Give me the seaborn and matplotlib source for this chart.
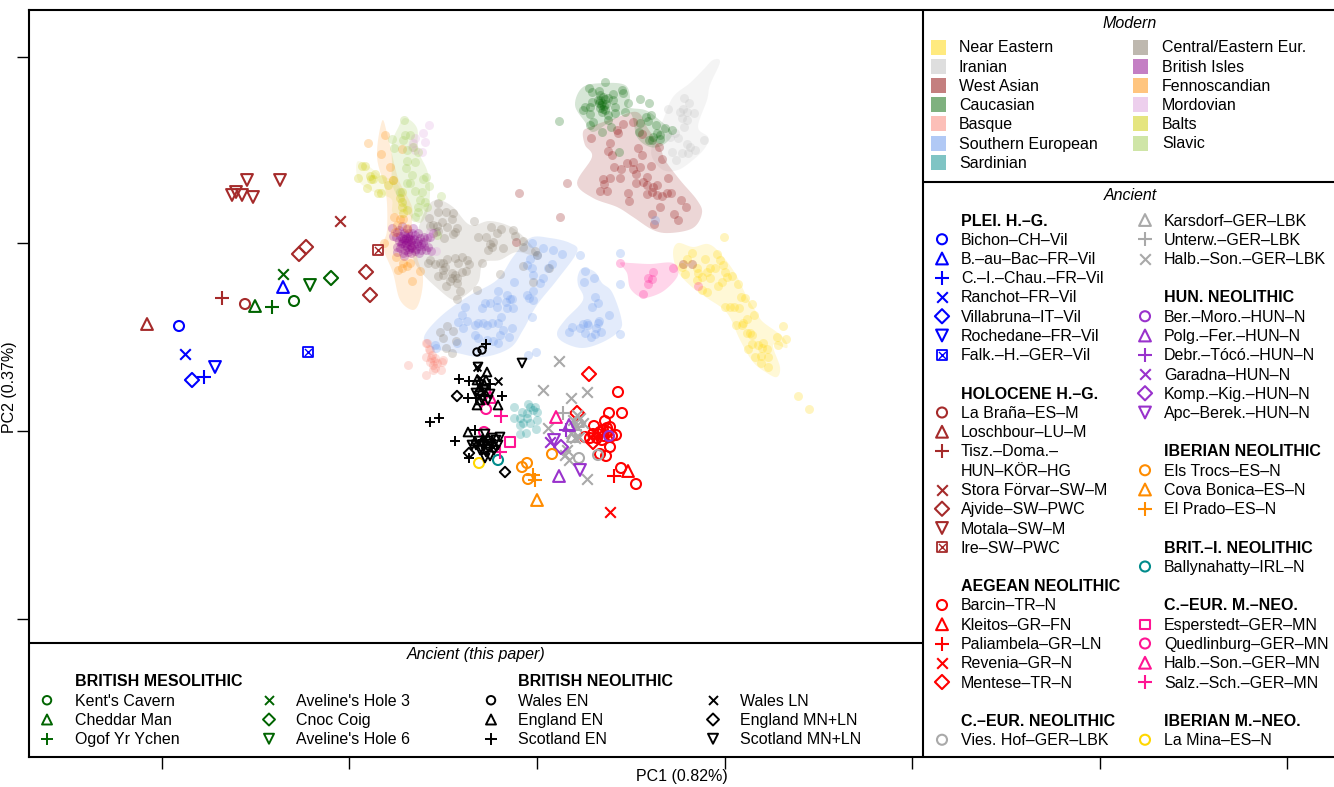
import numpy as np
import pandas as pd
import matplotlib
matplotlib.use("Agg")
import matplotlib.pyplot as plt
import seaborn as sns

# values are read off the picture, axis units are the plot's own (no tick labels in the original)
near_eastern = [(692,253),(687,259),(682,267),(685,274),(697,268),(698,273),(705,259),(717,254),(720,260),(723,265),(715,268),(710,268),(707,272),(702,277),(710,278),(697,280),(725,272),(732,276),(727,277),(718,286),(722,282),(738,284),(702,290),(707,292),(741,297),(745,298),(752,304),(725,307),(730,307),(734,307),(739,308),(754,315),(747,319),(743,323),(742,325),(736,325),(750,333),(747,333),(752,335),(783,326),(777,337),(786,339),(778,345),(763,343),(758,345),(752,344),(748,349),(762,348),(767,349),(768,357),(755,357),(761,356),(761,363),(768,367),(798,396),(809,409),(724,237)]
iranian = [(684,98),(689,103),(668,109),(680,112),(683,109),(687,112),(694,113),(682,118),(687,120),(684,127),(675,133),(678,138),(704,140),(687,144),(690,147),(695,150),(688,153),(682,153),(672,152),(676,160),(670,137)]
west_asian = [(591,138),(618,133),(617,130),(623,124),(633,122),(642,134),(610,143),(608,151),(612,155),(638,148),(642,155),(659,147),(662,159),(627,163),(633,162),(640,167),(651,166),(614,167),(621,169),(633,169),(636,174),(603,179),(610,178),(620,178),(604,184),(600,191),(607,191),(636,183),(647,177),(643,182),(647,185),(657,185),(653,187),(668,178),(628,193),(647,194),(652,192),(657,195),(662,196),(667,193),(671,193),(681,200),(686,207),(629,201),(660,207),(652,214),(674,214),(678,220),(654,224),(567,183),(560,217),(519,193),(516,242),(683,264),(692,264)]
caucasian = [(605,82),(589,88),(592,92),(599,91),(600,95),(622,90),(623,93),(613,94),(605,99),(608,98),(598,100),(592,102),(602,103),(613,100),(628,103),(640,99),(649,103),(585,107),(583,110),(590,107),(600,108),(605,110),(615,107),(602,112),(590,114),(615,113),(625,112),(608,115),(593,122),(590,125),(608,120),(611,127),(602,132),(559,121),(619,152),(640,123),(646,117),(651,115),(648,121),(656,125),(665,128),(672,130),(639,132),(657,133),(660,135),(653,137),(649,140),(660,139),(652,140),(601,105),(604,106),(599,103),(603,97),(600,100),(606,104),(603,109)]
basque = [(427,343),(429,349),(426,357),(432,355),(435,358),(430,362),(437,363),(433,365),(443,360),(426,375),(441,370),(433,370),(408,365),(426,343),(430,350),(435,368),(442,362),(431,358),(434,361)]
southern_eur = [(532,243),(543,248),(553,250),(562,254),(580,255),(530,259),(537,255),(527,265),(532,268),(552,264),(548,268),(533,275),(543,278),(540,283),(514,282),(498,291),(533,291),(527,295),(529,298),(533,300),(507,295),(510,299),(512,299),(506,302),(497,300),(490,303),(485,303),(482,308),(465,307),(497,307),(507,308),(513,308),(462,315),(458,322),(467,321),(463,328),(475,325),(478,323),(483,323),(487,325),(492,323),(498,323),(501,317),(532,317),(503,330),(512,328),(475,335),(478,338),(500,335),(509,337),(487,340),(493,341),(498,343),(457,343),(435,345),(436,348),(528,355),(536,352),
                (585,271),(594,278),(584,282),(595,297),(598,303),(592,307),(609,315),(599,321),(598,323),(587,323),(588,325),(583,324),(596,328),(601,332),(580,328),(572,327),(569,332),(585,333),(591,337),(595,334),(620,334),(620,253),(620,284),(655,220)]
sardinian = [(528,404),(514,407),(535,407),(537,412),(522,412),(527,413),(514,418),(520,418),(527,418),(537,420),(523,423),(520,425),(530,423),(536,429),(520,434),(526,433),(533,410),(530,407)]
central_eur = [(438,203),(438,212),(446,212),(453,213),(452,219),(429,218),(442,222),(474,221),(491,227),(430,226),(433,225),(437,226),(447,227),(457,228),(455,232),(501,229),(513,230),(497,233),(436,232),(438,231),(453,234),(478,237),(486,237),(515,236),(523,241),(444,238),(493,242),(490,244),(492,247),(488,250),(523,247),(503,248),(535,251),(537,255),(430,260),(428,263),(447,259),(455,258),(462,257),(467,260),(443,263),(435,264),(440,263),(458,263),(469,264),(482,263),(523,266),(445,267),(443,270),(549,268),(462,272),(466,271),(452,273),(455,275),(500,274),(438,276),(443,275),(452,278),(457,278),(450,281),(533,282),(457,283),(446,286),(477,290),(460,291),(457,299),(447,326),(453,331),(440,332),(443,338),(456,341),(446,348),(452,353)]
british_isles = [(392,228),(397,232),(402,226),(407,229),(413,228),(396,237),(400,236),(405,235),(410,236),(415,235),(420,238),(399,241),(404,239),(408,241),(412,240),(418,241),(423,242),(427,238),(401,244),(405,245),(410,245),(414,245),(419,246),(424,246),(428,247),(400,248),(405,250),(409,249),(416,249),(421,250),(426,250),(431,251),(397,252),(403,253),(411,253),(419,253),(404,256),(430,237),(433,233),(399,230),(406,243),(411,242),(403,241),(408,238),(412,248),(404,233),(408,233),(412,233),(402,238),(406,238),(410,239),(414,239),(417,243),(421,244),(402,243),(407,247),(411,247),(415,251),(408,252),(393,236),(397,247),(418,233),(424,237)]
fennoscandian = [(385,135),(368,143),(381,154),(390,167),(393,180),(402,149),(394,217),(400,219),(403,219),(397,225),(395,232),(407,228),(384,243),(396,257),(398,270),(403,263),(410,263),(407,266),(402,268),(420,271),(412,281)]
mordovian = [(429,125),(423,133),(415,138),(425,142),(413,143),(412,147),(422,152),(415,150),(430,232),(436,251),(432,235)]
balts = [(362,166),(365,166),(370,176),(375,174),(358,178),(371,179),(373,179),(382,179),(367,188),(378,193),(381,193),(388,185),(402,192),(400,198),(402,207),(407,210),(403,213),(393,180),(402,202)]
slavic = [(404,120),(392,139),(405,135),(410,135),(403,140),(394,148),(413,147),(407,150),(418,152),(407,161),(415,162),(406,168),(412,175),(426,177),(423,179),(407,183),(410,183),(429,186),(415,191),(422,192),(441,196),(400,192),(420,200),(425,202),(418,207),(418,212),(415,217),(427,207),(437,235)]
pink_group = [(620,263),(673,268),(653,272),(648,278),(652,279),(648,284),(643,294),(698,286)]

hull_near_eastern = [(673,253),(678,243),(693,247),(708,244),(720,253),(735,273),(747,297),(757,313),(763,322),(783,337),(787,348),(773,345),(780,367),(777,377),(767,373),(753,362),(740,340),(727,313),(707,298),(693,288),(678,272)]
hull_iranian = [(720,62),(713,60),(703,70),(690,83),(673,97),(663,120),(653,143),(652,157),(663,170),(678,170),(693,160),(705,148),(708,137),(698,127),(707,100),(710,85)]
hull_west_asian = [(583,132),(590,127),(615,118),(637,112),(647,127),(660,147),(665,160),(680,180),(697,200),(702,213),(693,228),(670,233),(653,230),(633,217),(617,207),(593,198),(577,183),(592,157),(585,145)]
hull_caucasian = [(575,105),(583,87),(605,83),(625,85),(630,97),(628,107),(645,110),(657,118),(672,133),(663,145),(650,147),(637,137),(630,113),(610,122),(593,132),(585,122)]
hull_south_a = [(424,337),(440,317),(467,297),(497,280),(513,257),(530,238),(550,238),(570,243),(577,252),(557,280),(537,305),(523,330),(510,348),(483,357),(457,353),(433,348)]
hull_south_b = [(578,275),(583,268),(595,272),(602,283),(612,292),(621,317),(620,330),(603,342),(582,348),(563,342),(557,333),(565,320),(583,300),(578,285)]
hull_pink = [(620,263),(630,263),(650,264),(673,263),(678,275),(665,290),(650,297),(640,297),(630,288),(627,273)]
hull_fenno = [(382,121),(387,133),(395,167),(400,183),(412,207),(412,227),(417,257),(423,277),(420,300),(413,310),(400,300),(393,273),(383,247),(387,230),(386,193),(377,157)]
hull_slavic = [(405,118),(417,128),(418,150),(427,170),(430,188),(428,210),(420,223),(408,213),(393,187),(392,163),(392,143),(398,128)]
hull_balts = [(357,162),(367,165),(380,175),(392,180),(400,188),(408,210),(393,213),(392,200),(383,195),(370,190),(358,180)]
hull_central = [(427,207),(438,200),(453,207),(470,225),(490,221),(513,228),(533,247),(538,257),(517,252),(500,260),(483,263),(478,283),(463,297),(453,300),(437,288),(422,273),(413,257),(417,233)]

# ancient samples, one list per population
bichon = [(179,326)]
bau_bac = [(283,287)]
chau = [(204,377)]
ranchot = [(185,354)]
villabruna = [(192,380)]
rochedane = [(215,367)]
falk = [(308,352)]
la_brana = [(245,304)]
loschbour = [(147,324)]
tisz = [(222,298)]
stora = [(340,221)]
ajvide = [(299,254),(306,247),(366,272),(370,295)]
motala = [(247,180),(280,180),(236,192),(232,195),(242,195),(253,197)]
ire = [(378,250)]
kents = [(294,301)]
cheddar = [(255,306)]
ogof = [(272,307)]
aveline3 = [(283,274)]
cnoc = [(331,278)]
aveline6 = [(310,285)]
barcin = [(618,392),(622,413),(609,413),(605,421),(594,426),(610,427),(585,437),(590,438),(597,438),(600,432),(603,430),(607,428),(598,434),(604,436),(612,436),(616,435),(610,447),(606,456),(600,454),(621,468),(636,484),(602,440),(608,432),(593,434)]
kleitos = [(628,471)]
paliambela = [(614,476)]
revenia = [(610,512)]
mentese = [(589,374),(593,442),(577,413)]
vies_hof = [(579,458),(598,455)]
karsdorf = [(578,421),(573,436)]
unterw = [(563,413),(575,430)]
halb_lbk = [(559,361),(543,390),(587,392),(571,398),(548,428),(587,479),(577,415),(575,438),(565,455),(569,460),(567,450),(583,423),(573,420),(580,418),(579,437),(571,433),(576,426)]
ber_moro = [(609,436)]
polg = [(569,425),(559,476)]
debr = [(566,430)]
garadna = [(550,442)]
komp = [(561,447)]
apc = [(554,440),(580,470)]
els_trocs = [(522,467),(527,463),(528,479),(552,454)]
cova = [(537,500)]
el_prado = [(533,475),(535,480)]
ballynahatty = [(498,460)]
esperstedt = [(510,442)]
quedlinburg = [(486,409),(484,432)]
halb_mn = [(556,417),(490,397)]
salz = [(501,416),(500,452)]
la_mina = [(479,463)]
wales_en = [(477,352),(482,350)]
england_en = [(487,372),(477,405),(498,405),(477,380),(486,380),(480,387),(484,384),(468,432),(480,400),(475,441)]
scotland_en = [(486,344),(459,379),(469,381),(468,398),(502,396),(430,422),(439,418),(455,441),(475,430),(469,458),(476,398),(485,396),(490,384),(483,440)]
wales_ln = [(498,381),(477,367),(483,392),(480,378),(493,447),(485,438)]
england_mn = [(457,396),(505,472),(469,453),(480,392),(483,442)]
scotland_mn = [(522,363),(478,367),(485,434),(476,393),(482,399),(488,400),(490,394),(480,385),(484,390),(472,445),(476,445),(480,450),(484,446),(488,441),(492,438),(496,440),(486,452),(490,456),(494,450),(498,445),(482,450),(488,447),(478,441),(491,444),(485,458),(500,437)]

x_ticks = [162, 349, 537, 725, 912, 1100, 1287]
y_ticks = [57, 243, 431, 619]

modern_col1 = [("Near Eastern", "#FFD700"), ("Iranian", "#BEBEBE"), ("West Asian", "#8B0000"), ("Caucasian", "#006400"),
               ("Basque", "#FA8072"), ("Southern European", "#6495ED"), ("Sardinian", "#008B8B")]
modern_col2 = [("Central/Eastern Eur.", "#7F7360"), ("British Isles", "#8B008B"), ("Fennoscandian", "#FF8C00"),
               ("Mordovian", "#DDA0DD"), ("Balts", "#CCCC00"), ("Slavic", "#A0CC50")]

P, H = "blue", "#A52A2A"
R, G, V, O, M = "red", "#A9A9A9", "#9932CC", "#FF8C00", "#FF1493"
ancient_col1 = [("PLEI. H.\u2013G.", None, None), ("Bichon\u2013CH\u2013Vil", "o", P), ("B.\u2013au\u2013Bac\u2013FR\u2013Vil", "^", P),
                ("C.\u2013I.\u2013Chau.\u2013FR\u2013Vil", "+", P), ("Ranchot\u2013FR\u2013Vil", "x", P), ("Villabruna\u2013IT\u2013Vil", "D", P),
                ("Rochedane\u2013FR\u2013Vil", "v", P), ("Falk.\u2013H.\u2013GER\u2013Vil", "box", P), None,
                ("HOLOCENE H.\u2013G.", None, None), ("La Bra\u00f1a\u2013ES\u2013M", "o", H), ("Loschbour\u2013LU\u2013M", "^", H),
                ("Tisz.\u2013Doma.\u2013", "+", H), ("HUN\u2013K\u00d6R\u2013HG", "", H), ("Stora F\u00f6rvar\u2013SW\u2013M", "x", H),
                ("Ajvide\u2013SW\u2013PWC", "D", H), ("Motala\u2013SW\u2013M", "v", H), ("Ire\u2013SW\u2013PWC", "box", H), None,
                ("AEGEAN NEOLITHIC", None, None), ("Barcin\u2013TR\u2013N", "o", R), ("Kleitos\u2013GR\u2013FN", "^", R),
                ("Paliambela\u2013GR\u2013LN", "+", R), ("Revenia\u2013GR\u2013N", "x", R), ("Mentese\u2013TR\u2013N", "D", R), None,
                ("C.\u2013EUR. NEOLITHIC", None, None), ("Vies. Hof\u2013GER\u2013LBK", "o", G)]
ancient_col2 = [("Karsdorf\u2013GER\u2013LBK", "^", G), ("Unterw.\u2013GER\u2013LBK", "+", G), ("Halb.\u2013Son.\u2013GER\u2013LBK", "x", G), None,
                ("HUN. NEOLITHIC", None, None), ("Ber.\u2013Moro.\u2013HUN\u2013N", "o", V), ("Polg.\u2013Fer.\u2013HUN\u2013N", "^", V),
                ("Debr.\u2013T\u00f3c\u00f3.\u2013HUN\u2013N", "+", V), ("Garadna\u2013HUN\u2013N", "x", V), ("Komp.\u2013Kig.\u2013HUN\u2013N", "D", V),
                ("Apc\u2013Berek.\u2013HUN\u2013N", "v", V), None,
                ("IBERIAN NEOLITHIC", None, None), ("Els Trocs\u2013ES\u2013N", "o", O), ("Cova Bonica\u2013ES\u2013N", "^", O), ("El Prado\u2013ES\u2013N", "+", O), None,
                ("BRIT.\u2013I. NEOLITHIC", None, None), ("Ballynahatty\u2013IRL\u2013N", "o", "#008B8B"), None,
                ("C.\u2013EUR. M.\u2013NEO.", None, None), ("Esperstedt\u2013GER\u2013MN", "s", M), ("Quedlinburg\u2013GER\u2013MN", "o", M),
                ("Halb.\u2013Son.\u2013GER\u2013MN", "^", M), ("Salz.\u2013Sch.\u2013GER\u2013MN", "+", M), None,
                ("IBERIAN M.\u2013NEO.", None, None), ("La Mina\u2013ES\u2013N", "o", "#FFD700")]
paper_col1 = [("BRITISH MESOLITHIC", None, None), ("Kent's Cavern", "o", "#006400"), ("Cheddar Man", "^", "#006400"), ("Ogof Yr Ychen", "+", "#006400")]
paper_col2 = [None, ("Aveline's Hole 3", "x", "#006400"), ("Cnoc Coig", "D", "#006400"), ("Aveline's Hole 6", "v", "#006400")]
paper_col3 = [("BRITISH NEOLITHIC", None, None), ("Wales EN", "o", "black"), ("England EN", "^", "black"), ("Scotland EN", "+", "black")]
paper_col4 = [None, ("Wales LN", "x", "black"), ("England MN+LN", "D", "black"), ("Scotland MN+LN", "v", "black")]

sns.set_style("ticks")
plt.rcParams["font.family"] = ["Liberation Sans", "DejaVu Sans"]
plt.rcParams["text.color"] = "black"
FS = 11.5
SIZES = {"o": 52, "^": 72, "v": 72, "D": 52, "s": 42, "+": 105, "x": 58}


def smooth(outline, n=8):
    # catmull-rom through the outline so the shaded regions come out round
    pts = np.array(outline, dtype=float)
    t = np.linspace(0, 1, n, endpoint=False)[:, None]
    out = []
    for i in range(len(pts)):
        p0, p1, p2, p3 = pts[i - 1], pts[i], pts[(i + 1) % len(pts)], pts[(i + 2) % len(pts)]
        out.append(0.5 * (2 * p1 + (p2 - p0) * t + (2 * p0 - 5 * p1 + 4 * p2 - p3) * t ** 2 + (3 * p1 - p0 - 3 * p2 + p3) * t ** 3))
    return np.vstack(out)


def hull(ax, outline, color, alpha):
    pts = smooth(outline)
    ax.fill(pts[:, 0], pts[:, 1], color=color, alpha=alpha, lw=0, zorder=1)


def modern(ax, pts, color):
    df = pd.DataFrame(pts, columns=["pc1", "pc2"])
    sns.scatterplot(data=df, x="pc1", y="pc2", ax=ax, color=color, s=42, alpha=0.25, linewidth=0, zorder=2, legend=False)


def ancient(ax, pts, pch, color, z=3, scale=1.0):
    df = pd.DataFrame(pts, columns=["pc1", "pc2"])
    lw = 1.5 if scale == 1.0 else 1.4
    if pch == "box":
        sns.scatterplot(data=df, x="pc1", y="pc2", ax=ax, marker="s", s=48, facecolor="none", edgecolor=color, linewidth=1.3, zorder=z, legend=False)
        sns.scatterplot(data=df, x="pc1", y="pc2", ax=ax, marker="x", s=26, color=color, linewidth=1.0, zorder=z, legend=False)
    elif pch in "+x":
        sns.scatterplot(data=df, x="pc1", y="pc2", ax=ax, marker=pch, s=SIZES[pch] * scale, color=color, linewidth=lw, zorder=z, legend=False)
    else:
        sns.scatterplot(data=df, x="pc1", y="pc2", ax=ax, marker=pch, s=SIZES[pch] * scale, facecolor="none", edgecolor=color, linewidth=lw, zorder=z, legend=False)


def legend_col(ax, entries, x_mark, x_text, y0, step=19.25, scale=1.0):
    for i, entry in enumerate(entries):
        if entry is None:
            continue
        label, pch, color = entry
        y = y0 + i * step
        ax.text(x_text, y + 1, label, fontsize=FS, va="center", ha="left", color="black",
                fontweight="bold" if pch is None else "normal", zorder=6)
        if pch:
            ancient(ax, [(x_mark, y)], pch, color, z=6, scale=scale)


fig = plt.figure(figsize=(13.34, 7.87), dpi=100)
ax = fig.add_axes([29 / 1334, 1 - 757 / 787, (1334 - 29) / 1334, (757 - 10) / 787])

hull(ax, hull_iranian, "#BEBEBE", 0.16)
hull(ax, hull_west_asian, "#8B0000", 0.16)
hull(ax, hull_caucasian, "#006400", 0.16)
hull(ax, hull_near_eastern, "#FFD700", 0.16)
hull(ax, hull_south_a, "#6495ED", 0.18)
hull(ax, hull_south_b, "#6495ED", 0.18)
hull(ax, hull_pink, "#FF69B4", 0.28)
hull(ax, hull_fenno, "#FF8C00", 0.15)
hull(ax, hull_slavic, "#A0CC50", 0.18)
hull(ax, hull_balts, "#CCCC00", 0.10)
hull(ax, hull_central, "#7F7360", 0.16)

for pts, c in [(near_eastern, "#FFD700"), (iranian, "#BEBEBE"), (west_asian, "#8B0000"), (caucasian, "#006400"), (basque, "#FA8072"),
               (southern_eur, "#6495ED"), (sardinian, "#008B8B"), (central_eur, "#7F7360"), (british_isles, "#8B008B"),
               (fennoscandian, "#FF8C00"), (mordovian, "#DDA0DD"), (balts, "#CCCC00"), (slavic, "#A0CC50"), (pink_group, "#FF1493")]:
    modern(ax, pts, c)

groups = [(bichon, "o", P), (bau_bac, "^", P), (chau, "+", P), (ranchot, "x", P), (villabruna, "D", P), (rochedane, "v", P), (falk, "box", P),
          (la_brana, "o", H), (loschbour, "^", H), (tisz, "+", H), (stora, "x", H), (ajvide, "D", H), (motala, "v", H), (ire, "box", H),
          (barcin, "o", R), (kleitos, "^", R), (paliambela, "+", R), (revenia, "x", R), (mentese, "D", R),
          (vies_hof, "o", G), (karsdorf, "^", G), (unterw, "+", G), (halb_lbk, "x", G),
          (ber_moro, "o", V), (polg, "^", V), (debr, "+", V), (garadna, "x", V), (komp, "D", V), (apc, "v", V),
          (els_trocs, "o", O), (cova, "^", O), (el_prado, "+", O),
          (ballynahatty, "o", "#008B8B"), (esperstedt, "s", M), (quedlinburg, "o", M), (halb_mn, "^", M), (salz, "+", M), (la_mina, "o", "#FFD700"),
          (kents, "o", "#006400"), (cheddar, "^", "#006400"), (ogof, "+", "#006400"), (aveline3, "x", "#006400"), (cnoc, "D", "#006400"), (aveline6, "v", "#006400")]
for pts, pch, c in groups:
    ancient(ax, pts, pch, c)

# the British Neolithic samples are drawn smaller than the rest
for pts, pch in [(wales_en, "o"), (england_en, "^"), (scotland_en, "+"), (wales_ln, "x"), (england_mn, "D"), (scotland_mn, "v")]:
    ancient(ax, pts, pch, "black", scale=0.55)

# panel rules, the legends sit on top of the plot area like in the original
ax.hlines(643, 29, 923, color="black", lw=1.5, zorder=5)
ax.vlines(923, 10, 757, color="black", lw=1.5, zorder=5)
ax.hlines(182, 923, 1334, color="black", lw=1.5, zorder=5)

ax.text(1130, 23, "Modern", style="italic", fontsize=FS, ha="center", va="center")
ax.text(1130, 196, "Ancient", style="italic", fontsize=FS, ha="center", va="center")
ax.text(476, 654, "Ancient (this paper)", style="italic", fontsize=FS, ha="center", va="center")
ax.text(682, 777, "PC1 (0.82%)", fontsize=FS, ha="center", va="center", clip_on=False)
ax.text(10, 387, "PC2 (0.37%)", fontsize=FS, ha="center", va="center", rotation=90, clip_on=False)

for col, x_box, x_text in [(modern_col1, 931, 959), (modern_col2, 1133, 1162)]:
    for i, (label, c) in enumerate(col):
        y = 47 + i * 19.2
        ax.fill([x_box, x_box + 15, x_box + 15, x_box], [y - 7.5, y - 7.5, y + 7.5, y + 7.5], color=c, alpha=0.5, lw=0, zorder=6)
        ax.text(x_text, y + 1, label, fontsize=FS, va="center", ha="left", zorder=6)

legend_col(ax, ancient_col1, 942, 961, 220)
legend_col(ax, ancient_col2, 1145, 1164, 220)
legend_col(ax, paper_col1, 47, 75, 681, scale=0.72)
legend_col(ax, paper_col2, 269, 296, 681, scale=0.72)
legend_col(ax, paper_col3, 491, 518, 681, scale=0.72)
legend_col(ax, paper_col4, 713, 740, 681, scale=0.72)

# seaborn relabels the axes on every call, so limits and labels go last
ax.set_xlim(29, 1334)
ax.set_ylim(757, 10)
ax.set_xticks(x_ticks)
ax.set_yticks(y_ticks)
ax.set_xticklabels([])
ax.set_yticklabels([])
ax.tick_params(length=8.5, width=1, color="black")
ax.set_xlabel("")
ax.set_ylabel("")
for side in ax.spines:
    ax.spines[side].set_linewidth(1.5)
    ax.spines[side].set_color("black")
ax.spines["right"].set_visible(False)

fig.savefig("out.png", dpi=100)
